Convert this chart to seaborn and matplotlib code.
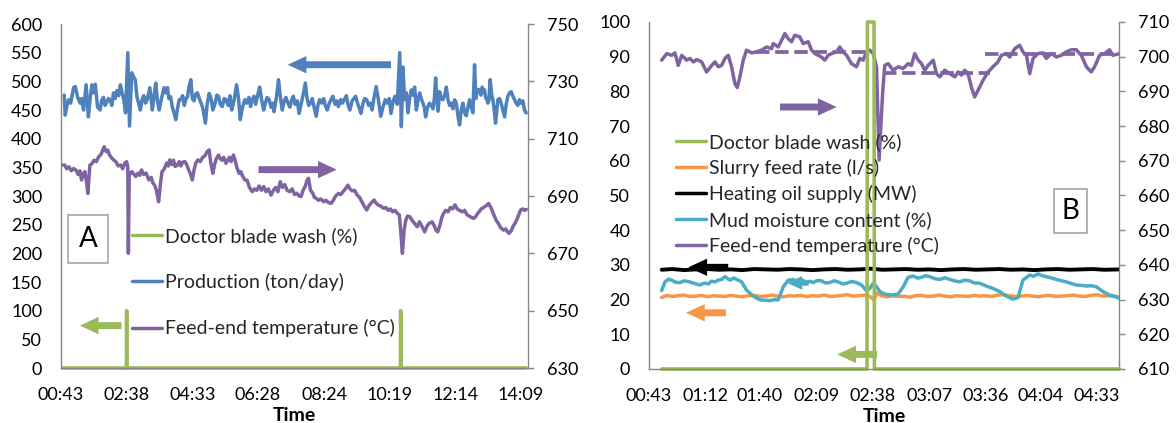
import numpy as np
import matplotlib
matplotlib.use("Agg")
import matplotlib.pyplot as plt
import seaborn as sns
from matplotlib.lines import Line2D
from matplotlib.patches import Rectangle

# ---------------- data (elapsed minutes after 00:43, value) ----------------
START_LABEL = "00:43"

a_tick_labels = ["00:43", "02:38", "04:33", "06:28", "08:24", "10:19", "12:14", "14:09"]
b_tick_labels = ["00:43", "01:12", "01:40", "02:09", "02:38", "03:07", "03:36", "04:04", "04:33"]

a_series_names = ["Doctor blade wash (%)", "Production (ton/day)", "Feed-end temperature (°C)"]
b_series_names = ["Doctor blade wash (%)", "Slurry feed rate (l/s)", "Heating oil supply (MW)",
                  "Mud moisture content (%)", "Feed-end temperature (°C)"]

a_wash = [(3, 0), (114.6, 0), (115, 100), (115.4, 0), (594.6, 0), (595, 100), (595.4, 0), (815, 0)]

a_production = [
    (5.6, 476), (7.4, 441), (10, 455), (13.2, 468), (17, 462), (22, 489), (25, 491), (29, 473),
    (33.6, 462), (36, 470), (39.5, 450), (44, 494), (48, 438), (51, 470), (54, 494), (57, 480),
    (60, 495), (64, 455), (68.6, 450), (71, 466), (74.4, 472), (77, 458), (80, 463), (83, 470),
    (86, 468), (89, 458), (92, 480), (95, 470), (98, 484), (101, 475), (104, 494), (107, 480),
    (110, 468), (113, 445), (117, 550), (120, 422), (124, 515), (127, 508), (130, 503), (133, 473),
    (136, 462), (139, 450), (142, 468), (145, 475), (148, 462), (151, 468), (155.6, 489), (160, 450),
    (163, 475), (166, 497), (169, 465), (172, 450), (176, 470), (180.6, 489), (183, 480), (186.5, 489),
    (189, 470), (192, 473), (195, 455), (198, 445), (201, 433), (204, 452), (207, 468), (210, 468),
    (213, 475), (216, 458), (219, 470), (221.6, 473), (224, 490), (227.5, 503), (230, 470), (233, 466),
    (236, 478), (239, 480), (243, 468), (248, 455), (253, 427), (256, 460), (259.5, 479), (263, 470),
    (266, 450), (270, 462), (273, 476), (276, 474), (279, 460), (282.5, 456), (286, 470), (289, 468),
    (293, 458), (296, 475), (299, 450), (303, 466), (307.5, 494), (311, 470), (314, 433), (318, 455),
    (322, 468), (325, 462), (329, 472), (332, 456), (335, 468), (338, 474), (341, 460), (345, 478),
    (348, 490), (351, 470), (355, 450), (358, 462), (361, 472), (364.6, 468), (368, 455), (371, 462),
    (373, 447), (377, 470), (381, 503), (384, 475), (387.6, 450), (391, 466), (394, 472), (397.5, 462),
    (401, 455), (404, 468), (407, 474), (410, 460), (414, 466), (417, 444), (421, 462), (424, 476),
    (428, 497), (431, 470), (434, 458), (437, 462), (440, 470), (444, 452), (447, 439), (450, 458),
    (453, 468), (456.6, 462), (460, 470), (463, 458), (466.5, 450), (470, 462), (473, 468), (476, 474),
    (480, 460), (483, 466), (486, 456), (490, 468), (493, 462), (496, 468), (500, 475), (503, 458),
    (506, 450), (510, 466), (513, 470), (516, 474), (520, 460), (523, 452), (525.6, 444), (529, 462),
    (532, 470), (535.5, 468), (539, 458), (542, 462), (545, 450), (548, 470), (552, 491), (556, 468),
    (560, 439), (564, 455), (568, 468), (571, 462), (575, 470), (578, 444), (582, 466), (585, 474),
    (589, 460), (593.3, 550), (596.2, 421), (599, 525), (602, 468), (605, 480), (607.8, 445), (610.7, 470),
    (613.7, 485), (616.6, 476), (619.5, 490), (622.4, 450), (625.3, 466), (628.2, 480), (631, 470), (634, 462),
    (636.4, 455), (638.7, 438), (642.2, 455), (645.7, 462), (648.7, 458), (651.6, 452), (654, 470), (656.2, 506),
    (658.6, 470), (660.3, 448), (663.2, 482), (666.2, 470), (669, 468), (672, 476), (675, 490), (677.8, 468),
    (680.7, 458), (683.6, 462), (686.5, 452), (689.5, 468), (692.4, 462), (695.3, 440), (698.2, 424), (701, 450),
    (704, 462), (707, 445), (709.9, 440), (712.8, 455), (715.7, 468), (718.6, 455), (721.5, 445), (724.4, 529),
    (726.8, 470), (728.5, 480), (731, 486), (733.2, 485), (735.5, 476), (737.8, 490), (740.2, 482), (742, 485),
    (743.7, 472), (746, 468), (747.8, 462), (749.5, 466), (751.8, 503), (754.2, 478), (756.5, 468), (758.8, 450),
    (761.2, 427), (763, 445), (765.2, 468), (768.2, 470), (771, 462), (774, 450), (777, 438), (779.8, 460),
    (782.7, 474), (785.6, 480), (788.6, 482), (791.5, 474), (794.4, 468), (797.3, 462), (800.2, 458), (803, 468),
    (806, 462), (809, 466), (811.9, 450), (814.8, 445),
]

a_temperature = [
    (3, 700.8), (6.6, 700.8), (10, 699.5), (14, 700.2), (18, 698.8), (22, 699.6), (26, 699.1), (30, 697.5),
    (33, 698.8), (36, 695.6), (39, 697.8), (42, 698.5), (45, 694.5), (47, 690.9), (50.6, 700.8), (54, 701.2),
    (58, 702.5), (62, 702), (66, 703.7), (70, 704.5), (73, 706), (75.6, 707.2), (79, 705.5), (82, 706),
    (85, 704.3), (88, 703.5), (92, 702.6), (96, 702), (100, 700.5), (105, 700.8), (108, 699.5), (112, 701.5),
    (115, 702), (117, 700), (118, 670), (119.5, 697.3), (124, 698.5), (128, 697.5), (131, 696.8), (135, 698),
    (138, 697.2), (141, 699.1), (145, 697.5), (149, 698), (154, 695.6), (158, 696.5), (161, 694.5), (164, 693.8),
    (167, 692), (169, 690), (171, 688), (174, 694), (177, 698.5), (181, 699.5), (185, 701.5), (188, 700.5),
    (190.5, 702.6), (194, 701), (197, 702.5), (200, 700.3), (204, 700.8), (207, 702), (210, 700.5), (213, 701.8),
    (217, 702), (220, 701), (224, 699), (227, 697.5), (230, 695.6), (233, 699), (236, 701.5), (240, 702.6),
    (244, 702), (248, 703.5), (252, 704), (256, 705.5), (259.5, 706.1), (262, 702), (264, 700), (266, 697.9),
    (269, 701), (272, 703), (276, 704.3), (279, 703), (282, 702.5), (285, 703.5), (289, 701.4), (292, 702.5),
    (295, 703.5), (298, 702), (302, 704.3), (305, 702.5), (308, 700), (312, 697.9), (315, 698.5), (318, 697),
    (322, 695.6), (326, 695.5), (330, 693), (335, 691.5), (339, 692.5), (343, 692), (347, 693.5), (351, 692),
    (355, 693.3), (359, 691.5), (363, 692.5), (368, 690.3), (372, 692), (376, 693), (380, 691.5), (384, 695),
    (388, 693), (392, 694), (396, 692), (401, 691.5), (405, 692.5), (409, 690.5), (413, 691), (417, 690),
    (420.5, 689.8), (424, 692), (428, 693.5), (431, 695.5), (433.6, 696.2), (437, 692), (441, 691), (444, 689.5),
    (447, 689.2), (451, 688.5), (455, 689), (460, 688), (464, 688.5), (468, 687.8), (473, 687.4), (477, 688.5),
    (481, 690), (486, 690.9), (490, 690.5), (494, 691.5), (498, 692.5), (502.6, 693.8), (506, 692.5), (510, 691.8),
    (514, 692), (519, 690.3), (523, 689.5), (527, 688), (531, 686.5), (535.5, 685.1), (539, 686.5), (543, 687.5),
    (548.6, 688.6), (552, 687.5), (556, 686.8), (560, 686.5), (565, 685.7), (569, 686), (573, 685), (577, 685.5),
    (581, 684.5), (585, 685), (589, 684), (592.6, 683.4), (595, 678), (598, 670), (601, 678), (604, 681.6),
    (607, 683), (611, 682.8), (615, 681.5), (619, 680.5), (624, 679.3), (628, 681), (632, 679.5), (637, 677.5),
    (641, 679.5), (645, 680.5), (650, 681), (654, 679.5), (657, 678), (660, 677.5), (664, 680), (667, 682.5),
    (670, 683.9), (674, 685), (678, 684.5), (682, 686), (686, 685.5), (690, 686.9), (694, 685.5), (698, 685),
    (703, 684.5), (707, 685), (711, 683.5), (715, 683), (719, 682.5), (723, 682.2), (727, 683), (730, 684),
    (732.5, 684.5), (736, 685.5), (740, 686), (744, 686.5), (749, 687.4), (753, 686), (757, 684), (762, 681.6),
    (766, 680.5), (770, 679), (775, 678.1), (779, 678.5), (782, 677.5), (785, 677), (789, 678), (792, 679.5),
    (795, 680.4), (799, 682), (802, 683.5), (805, 685.1), (809, 685.5), (812, 685), (815, 685.3),
]

b_wash = [(6.5, 0), (112.0, 0), (112.2, 100), (115.6, 100), (115.8, 0), (241.8, 0)]

b_slurry = [
    (6.5, 20.6), (9, 21.2), (12, 20.9), (15, 21.1), (18, 21.3), (21, 20.9), (24, 21.0), (27, 21.2),
    (30, 20.8), (33, 21.1), (36, 21.0), (39, 20.9), (42, 21.2), (45, 21.0), (48, 20.8), (51, 21.1),
    (54, 21.2), (57, 20.9), (60, 21.0), (63, 21.3), (66, 21.0), (69, 20.8), (72, 21.1), (75, 21.0),
    (78, 21.2), (81, 20.9), (84, 21.1), (87, 21.0), (90, 21.3), (93, 20.9), (96, 21.0), (99, 21.2),
    (102, 21.4), (105, 21.0), (108, 21.1), (111, 21.3), (113.5, 20.9), (115.5, 19.9), (117, 21.9), (119, 21.2),
    (122, 20.8), (125, 21.1), (128, 20.9), (131, 21.0), (134, 20.7), (137, 21.1), (140, 21.2), (143, 20.9),
    (146, 21.0), (149, 21.3), (152, 21.0), (155, 20.8), (158, 21.1), (161, 21.0), (164, 20.9), (167, 21.2),
    (170, 21.0), (173, 21.1), (176, 20.9), (179, 21.3), (182, 21.4), (185, 21.1), (188, 20.9), (191, 21.0),
    (194, 21.2), (197, 21.0), (200, 20.8), (203, 21.1), (206, 21.2), (209, 20.9), (212, 21.0), (215, 21.1),
    (218, 21.3), (221, 21.0), (224, 20.9), (227, 21.2), (230, 21.4), (233, 21.0), (236, 21.1), (239, 20.9),
    (241.8, 20.8),
]

b_heating = [
    (6.5, 28.6), (12, 28.8), (18, 28.5), (24, 28.7), (30, 28.8), (36, 28.6), (42, 28.7), (48, 28.5),
    (54, 28.8), (60, 28.7), (66, 28.6), (72, 28.8), (78, 28.7), (84, 28.5), (90, 28.7), (96, 28.8),
    (102, 28.6), (108, 28.7), (114, 28.9), (120, 28.6), (126, 28.7), (132, 28.8), (138, 28.6), (144, 28.7),
    (150, 28.5), (156, 28.7), (162, 28.8), (168, 28.6), (174, 28.7), (180, 28.8), (186, 28.6), (192, 28.7),
    (198, 28.5), (204, 28.7), (210, 28.8), (216, 28.6), (222, 28.7), (228, 28.8), (234, 28.6), (241.8, 28.7),
]

b_moisture = [
    (6.5, 22.6), (8.2, 25.1), (10, 25.9), (11.6, 25.6), (13.5, 25.0), (15.9, 24.9), (18, 25.4), (21.0, 25.1),
    (23.5, 24.6), (26.2, 24.2), (28.5, 24.8), (30.5, 24.5), (32, 25.3), (33.9, 25.1), (35.5, 25.6), (37.3, 25.8),
    (39.0, 26.6), (40.5, 26.0), (41.6, 25.6), (43.5, 26.2), (45.0, 25.8), (47.6, 25.1), (50.1, 22.7), (53.6, 21.0),
    (57.0, 19.9), (60, 19.8), (62.1, 19.7), (64.5, 20.0), (66.4, 19.9), (69.0, 23.7), (71.5, 25.6), (74.1, 25.8),
    (75.8, 25.3), (77.5, 25.1), (79, 25.6), (80.9, 24.7), (82.5, 25.3), (84.3, 24.9), (86.5, 25.5), (88.6, 25.4),
    (90.5, 24.8), (92.9, 24.9), (95, 25.4), (97.2, 25.1), (99.5, 24.5), (101.5, 24.7), (104, 25.2), (106.6, 24.9),
    (109.2, 24.2), (111.7, 22.6), (113.4, 23.2), (115.2, 24.7), (116.9, 23.7), (118.6, 22.3), (121.1, 21.6),
    (124.6, 21.3), (128.0, 21.6), (130.6, 23.7), (133.1, 26.4), (135.7, 26.8), (138, 26.2), (140.0, 26.4),
    (142, 26.9), (144.2, 26.6), (147, 26.0), (149.4, 25.8), (152, 26.3), (154.5, 25.8), (157, 25.4),
    (159.6, 25.1), (162, 25.6), (164.8, 25.4), (167, 24.8), (169.9, 24.7), (173.3, 23.9), (176.7, 23.2),
    (180.2, 22.3), (183.6, 21.0), (187.0, 20.1), (189.6, 20.6), (192.1, 25.6), (195.6, 27.1), (197.5, 26.7),
    (199.8, 27.4), (202, 26.9), (204.1, 26.6), (207, 26.2), (209.3, 25.8), (212, 25.4), (214.4, 25.1),
    (217, 24.6), (219.5, 24.2), (222, 24.1), (224.7, 23.9), (227, 24.0), (229.8, 23.7), (233.2, 22.3),
    (236.6, 21.3), (239, 21.0), (241.8, 20.3),
]

b_temperature = [
    (6.5, 699.0), (9.1, 700.9), (11.6, 700.4), (13.3, 701.1), (15.0, 697.5), (16.8, 700.4), (19.3, 699.0),
    (21.0, 699.5), (22.8, 698.5), (24.5, 699.2), (27.0, 698.5), (29.6, 695.6), (32.2, 697.5), (33.9, 698.5),
    (35.6, 697.1), (37.3, 697.5), (39.0, 699.5), (40.7, 700.4), (42.4, 697.1), (44.1, 692.3), (45.3, 691.1),
    (46.7, 694.2), (48.4, 699.0), (50.1, 701.9), (52.7, 701.1), (55.3, 701.4), (57.8, 701.9), (60.4, 702.8),
    (63.0, 702.3), (63.8, 703.8), (66.4, 702.8), (68.1, 704.7), (69.8, 706.7), (71.5, 705.2), (73.2, 704.3),
    (74.9, 706.2), (77.5, 705.7), (79.2, 703.8), (81.8, 704.3), (83.5, 701.9), (85.2, 700.9), (86.9, 700.4),
    (88.6, 699.9), (90.3, 699.0), (92.0, 700.4), (93.8, 700.9), (96.3, 701.4), (98.0, 702.8), (99.7, 701.4),
    (101.5, 700.4), (104.0, 698.0), (106.6, 697.1), (108.3, 699.5), (110.0, 699.0), (111.7, 701.4),
    (113.4, 701.9), (115.2, 700.9), (116.9, 697.1), (118.2, 670.2), (120.0, 689.4), (121.1, 697.5),
    (122.9, 698.0), (125.4, 696.1), (128.0, 697.1), (130.6, 696.6), (133.1, 698.0), (134.8, 697.5),
    (136.5, 700.9), (138.3, 699.0), (140.0, 698.0), (141.7, 696.1), (143.4, 697.5), (146.0, 699.0),
    (147.7, 695.1), (149.4, 694.2), (151.9, 696.1), (154.5, 695.1), (157.1, 694.2), (158.8, 695.6),
    (160.5, 694.7), (162.2, 696.1), (163.9, 695.1), (165.6, 691.3), (167.3, 688.4), (169.0, 690.3),
    (171.6, 693.2), (174.2, 695.6), (176.7, 697.1), (179.3, 698.5), (181.0, 700.4), (183.6, 700.9),
    (185.3, 699.9), (187.9, 702.3), (190.4, 703.3), (192.1, 701.4), (193.9, 700.4), (195.6, 695.1),
    (197.3, 699.5), (199.8, 700.9), (202.4, 701.1), (204.1, 699.5), (206.7, 700.9), (209.3, 699.9),
    (211.8, 700.4), (214.4, 701.4), (217.0, 702.0), (219.5, 702.0), (222.1, 700.4), (224.7, 697.1),
    (227.2, 695.6), (228.9, 697.1), (231.5, 700.4), (234.1, 700.9), (236.6, 702.0), (238.3, 700.4),
    (241.8, 700.9),
]

# dashed reference levels of feed-end temperature in panel B: (start, end, level)
b_temp_levels = [(55, 115.2, 701.4), (120.3, 175, 695.3), (172.5, 241.8, 700.9)]

# ---------------- style ----------------
C_GREEN = "#9BBB59"
C_BLUE = "#4F81BD"
C_PURPLE = "#8064A2"
C_ORANGE = "#F79646"
C_CYAN = "#4BACC6"
C_BLACK = "#000000"
C_AXIS = "#868686"

sns.set_theme(style="white")
plt.rcParams["font.family"] = ["Lato", "DejaVu Sans"]


def hm(s):
    h, m = s.split(":")
    return int(h) * 60 + int(m)


T0 = hm(START_LABEL)
LW = 2.5


def draw(ax, pairs, color, lw=LW, z=2, clip=True):
    t = np.array([p[0] for p in pairs], dtype=float) + T0
    v = np.array([p[1] for p in pairs], dtype=float)
    sns.lineplot(x=t, y=v, ax=ax, color=color, linewidth=lw, estimator=None,
                 sort=False, legend=False, zorder=z)
    ln = ax.lines[-1]
    ln.set_clip_on(clip)
    return ln


def arrow(ax, tail, tip, color, scale=10):
    ax.annotate("", xy=(tip[0] + T0, tip[1]), xytext=(tail[0] + T0, tail[1]),
                xycoords="data", textcoords="data",
                arrowprops=dict(arrowstyle="simple,head_length=1.35,head_width=1.25,tail_width=0.5",
                                mutation_scale=scale, color=color, lw=0,
                                shrinkA=0, shrinkB=0), zorder=6)


def style_axes(ax, ax2, labels, xlim, ylim, yticks, ylim2, yticks2):
    ax.set_xlim(T0 + xlim[0], T0 + xlim[1])
    ax.set_ylim(*ylim)
    ax2.set_ylim(*ylim2)
    ax.set_yticks(yticks)
    ax2.set_yticks(yticks2)
    ax.set_xticks([hm(s) for s in labels])
    ax.set_xticklabels(labels)
    for sp in ["top", "right"]:
        ax.spines[sp].set_visible(False)
    for sp in ["top", "left", "bottom"]:
        ax2.spines[sp].set_visible(False)
    ax.spines["left"].set_color(C_AXIS)
    ax.spines["bottom"].set_color(C_AXIS)
    ax2.spines["right"].set_color(C_AXIS)
    for s in ax.spines.values():
        s.set_linewidth(1.0)
    ax2.spines["right"].set_linewidth(1.0)
    ax.tick_params(axis="y", length=0, pad=13.5, labelsize=13, colors="black")
    ax.tick_params(axis="x", length=0, pad=13.5, labelsize=13, colors="black")
    ax2.tick_params(axis="y", length=4.5, width=1.0, color=C_AXIS, pad=9, labelsize=13,
                    labelcolor="black", direction="out")
    ax.set_xlabel("Time", fontsize=14, fontweight="bold", labelpad=3, color="black")
    ax.set_ylabel("")
    ax2.set_ylabel("")
    ax.grid(False)
    ax2.grid(False)
    ax.set_zorder(ax2.get_zorder() + 1)
    ax.patch.set_visible(False)


def tag(ax, text, x0, y0, w, h):
    ax.add_patch(Rectangle((x0, y0), w, h, transform=ax.transAxes, facecolor="white",
                           edgecolor="#A6A6A6", lw=1.2, zorder=5))
    ax.text(x0 + w / 2, y0 + h / 2, text, transform=ax.transAxes, ha="center", va="center",
            fontsize=20, color="black", zorder=6)


fig = plt.figure(figsize=(11.76, 4.23), dpi=100)

# ---------------- Panel A ----------------
axA = fig.add_axes([0.05187, 0.1300, 0.3971, 0.8132])
axA2 = axA.twinx()
draw(axA2, a_temperature, C_PURPLE)
draw(axA, a_production, C_BLUE)
draw(axA, a_wash, C_GREEN, lw=2.6, clip=False)
style_axes(axA, axA2, a_tick_labels, (0, 818), (0, 600), np.arange(0, 601, 50),
           (630, 750), np.arange(630, 751, 20))
arrow(axA, (578, 529), (397, 529), C_BLUE)
arrow(axA, (346, 346), (483, 346), C_PURPLE)
arrow(axA, (106, 74), (33, 74), C_GREEN)
tag(axA, "A", 0.016, 0.305, 0.084, 0.14)
hA = [Line2D([0], [0], color=c, lw=LW) for c in (C_GREEN, C_BLUE, C_PURPLE)]
axA.legend(hA, a_series_names, loc="upper left", bbox_to_anchor=(0.151, 0.41),
           frameon=False, fontsize=14, labelspacing=1.45, handlelength=1.55,
           handletextpad=0.15, borderpad=0, borderaxespad=0)

# ---------------- Panel B ----------------
axB = fig.add_axes([0.5519, 0.1277, 0.3997, 0.8203])
axB2 = axB.twinx()
draw(axB2, b_temperature, C_PURPLE)
for (s, e, lvl) in b_temp_levels:
    ln = draw(axB2, [(s, lvl), (e, lvl)], C_PURPLE, lw=2.7)
    ln.set_linestyle((0, (3.6, 1.5)))
draw(axB, b_slurry, C_ORANGE)
draw(axB, b_heating, C_BLACK, lw=2.8)
draw(axB, b_moisture, C_CYAN)
draw(axB, b_wash, C_GREEN, lw=2.6, clip=False)
style_axes(axB, axB2, b_tick_labels, (0, 241.5), (0, 100), np.arange(0, 101, 10),
           (610, 710), np.arange(610, 711, 10))
arrow(axB, (67.3, 75.5), (96.4, 75.5), C_PURPLE)
arrow(axB, (40.7, 29.3), (20.2, 29.3), C_BLACK)
arrow(axB, (39.5, 16.2), (19, 16.2), C_ORANGE)
arrow(axB, (117.2, 4.2), (96.7, 4.2), C_GREEN)
arrow(axB, (82, 24.8), (71, 24.8), C_CYAN, scale=8)
tag(axB, "B", 0.862, 0.392, 0.07, 0.127)
hB = [Line2D([0], [0], color=c, lw=LW) for c in (C_GREEN, C_ORANGE, C_BLACK, C_CYAN, C_PURPLE)]
axB.legend(hB, b_series_names, loc="upper left", bbox_to_anchor=(0.057, 0.68),
           frameon=False, fontsize=14, labelspacing=0.41, handlelength=1.55,
           handletextpad=0.15, borderpad=0, borderaxespad=0)

fig.savefig("out.png", dpi=100)
